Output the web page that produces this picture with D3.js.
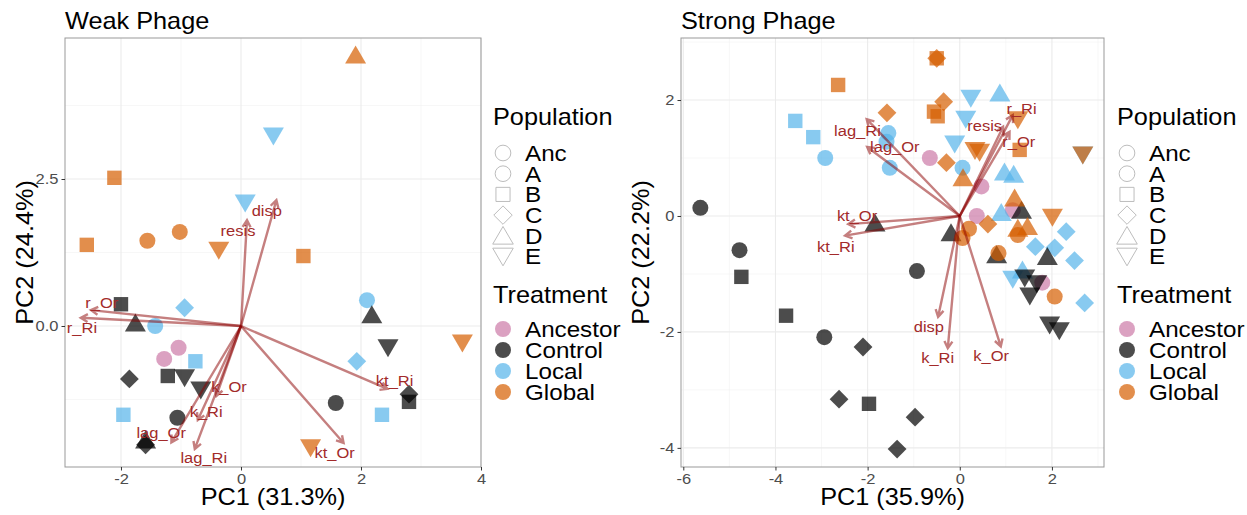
<!DOCTYPE html>
<html>
<head>
<meta charset="utf-8">
<script src="https://cdn.jsdelivr.net/npm/d3@7"></script>
<style>
  body { margin: 0; background: #fff; }
  svg { font-family: "Liberation Sans", Arial, sans-serif; }
</style>
</head>
<body>
<svg id="chart" width="1247" height="515"></svg>
<script>
// ---- data ----
var populations = ["Anc", "A", "B", "C", "D", "E"];
var treatments = ["Ancestor", "Control", "Local", "Global"];
var treatmentColors = ["#CC79A7", "#000000", "#56B4E9", "#D55E00"];

// [PC1, PC2, population, treatment]
var weakPoints = [
  [-1.04, -0.37, "Anc", "Ancestor"], [-1.28, -0.56, "Anc", "Ancestor"],
  [0.54, 3.23, "E", "Local"], [0.07, 2.09, "E", "Local"], [2.10, 0.44, "A", "Local"],
  [-0.94, 0.31, "C", "Local"], [-1.43, 0.00, "A", "Local"], [-0.76, -0.60, "B", "Local"],
  [1.93, -0.60, "C", "Local"], [-1.96, -1.51, "B", "Local"], [2.35, -1.51, "B", "Local"],
  [-2.00, 0.37, "B", "Control"], [-1.76, 0.05, "D", "Control"], [2.18, 0.19, "D", "Control"],
  [2.45, -0.37, "E", "Control"], [-1.86, -0.90, "C", "Control"], [-1.22, -0.85, "B", "Control"],
  [-0.94, -0.88, "E", "Control"], [-0.67, -1.09, "E", "Control"], [-1.06, -1.56, "A", "Control"],
  [1.58, -1.31, "A", "Control"], [2.80, -1.29, "B", "Control"], [2.80, -1.16, "C", "Control"],
  [-1.59, -1.94, "D", "Control"], [-1.59, -2.02, "C", "Control"],
  [1.91, 4.61, "D", "Global"], [-2.11, 2.52, "B", "Global"], [-2.57, 1.38, "B", "Global"],
  [-1.56, 1.45, "A", "Global"], [-1.02, 1.60, "A", "Global"], [-0.37, 1.29, "E", "Global"],
  [1.04, 1.19, "B", "Global"], [3.69, -0.29, "E", "Global"], [1.16, -2.07, "E", "Global"]
];

var strongPoints = [
  [-0.65, 1.00, "Anc", "Ancestor"], [0.47, 0.51, "Anc", "Ancestor"], [0.37, 0.00, "Anc", "Ancestor"],
  [1.15, 0.10, "Anc", "Ancestor"], [1.79, -1.15, "Anc", "Ancestor"],
  [-3.57, 1.64, "B", "Local"], [-3.18, 1.36, "B", "Local"], [-2.92, 1.00, "A", "Local"],
  [-1.55, 1.43, "A", "Local"], [-1.59, 1.28, "A", "Local"], [-1.52, 0.83, "A", "Local"],
  [0.06, 0.83, "A", "Local"], [0.24, 2.03, "E", "Local"], [0.87, 2.12, "D", "Local"],
  [0.13, 1.67, "E", "Local"], [-0.11, 1.24, "E", "Local"], [0.97, 0.76, "D", "Local"],
  [1.17, 0.72, "D", "Local"], [0.90, 0.06, "D", "Local"], [2.31, -0.27, "C", "Local"],
  [1.64, -0.53, "C", "Local"], [2.06, -0.55, "C", "Local"], [2.49, -0.77, "C", "Local"],
  [2.71, -1.50, "C", "Local"], [1.15, -1.09, "E", "Local"], [1.36, -0.93, "D", "Local"],
  [2.67, 1.05, "E", "Local"],
  [-5.63, 0.14, "A", "Control"], [-4.78, -0.59, "A", "Control"], [-4.74, -1.05, "B", "Control"],
  [-3.77, -1.72, "B", "Control"], [-2.94, -2.09, "A", "Control"], [-2.10, -2.26, "C", "Control"],
  [-2.62, -3.16, "C", "Control"], [-1.97, -3.24, "B", "Control"], [-0.97, -3.47, "C", "Control"],
  [-1.36, -4.02, "C", "Control"], [-0.93, -0.95, "A", "Control"], [-1.84, -0.12, "D", "Control"],
  [-0.19, -0.29, "D", "Control"], [0.80, -0.67, "D", "Control"], [1.34, 0.10, "D", "Control"],
  [1.90, -0.70, "D", "Control"], [1.41, -1.07, "E", "Control"], [1.67, -1.17, "E", "Control"],
  [1.52, -1.38, "E", "Control"], [1.95, -1.88, "E", "Control"], [2.16, -1.98, "E", "Control"],
  [-0.50, 2.72, "B", "Global"], [-0.50, 2.72, "C", "Global"], [-2.64, 2.26, "B", "Global"],
  [-1.58, 1.78, "C", "Global"], [-0.35, 1.97, "C", "Global"], [-0.56, 1.80, "B", "Global"],
  [-0.48, 1.72, "B", "Global"], [1.26, 1.66, "E", "Global"], [1.30, 1.14, "B", "Global"],
  [0.33, 1.13, "E", "Global"], [0.43, 1.10, "E", "Global"], [-0.29, 0.92, "C", "Global"],
  [0.07, 0.66, "D", "Global"], [0.61, -0.14, "C", "Global"], [0.20, -0.22, "A", "Global"],
  [0.06, -0.38, "A", "Global"], [1.19, 0.31, "D", "Global"], [1.26, -0.21, "D", "Global"],
  [1.47, -0.18, "D", "Global"], [1.26, -0.33, "A", "Global"], [2.01, -0.02, "E", "Global"],
  [0.84, -0.64, "A", "Global"], [2.06, -1.39, "A", "Global"], [2.67, 1.05, "E", "Global"]
];

// [variable, arrow tip PC1, arrow tip PC2, label PC1, label PC2]
var weakLoadings = [
  ["r_Or", -2.50, 0.27, -2.32, 0.39], ["r_Ri", -2.67, 0.14, -2.65, -0.03],
  ["resis", 0.10, 1.80, -0.05, 1.63], ["disp", 0.59, 2.14, 0.43, 1.96],
  ["kt_Ri", 2.44, -1.07, 2.56, -0.92], ["kt_Or", 1.71, -1.99, 1.56, -2.15],
  ["k_Or", -0.41, -1.19, -0.20, -1.03], ["k_Ri", -0.72, -1.60, -0.58, -1.46],
  ["lag_Or", -1.16, -1.98, -1.33, -1.82], ["lag_Ri", -0.77, -2.09, -0.62, -2.24]
];
var strongLoadings = [
  ["lag_Ri", -2.02, 1.67, -2.22, 1.48], ["lag_Or", -2.01, 1.19, -1.41, 1.19],
  ["kt_Or", -2.42, -0.14, -2.23, 0.00], ["kt_Ri", -2.49, -0.34, -2.69, -0.53],
  ["resis", 0.94, 1.54, 0.54, 1.56], ["r_Ri", 1.15, 1.74, 1.34, 1.86],
  ["r_Or", 1.08, 1.45, 1.28, 1.28], ["disp", -0.47, -1.74, -0.67, -1.91],
  ["k_Ri", -0.26, -2.28, -0.48, -2.44], ["k_Or", 0.89, -2.25, 0.68, -2.40]
];

var weakXTicks = [-2, 0, 2, 4], weakXMinor = [-1, 1, 3];
var weakYTicks = [0, 2.5], weakYMinor = [-1.25, 1.25, 3.75];
var strongXTicks = [-6, -4, -2, 0, 2], strongXMinor = [-5, -3, -1, 1, 3];
var strongYTicks = [-4, -2, 0, 2], strongYMinor = [-3, -1, 1, 3];

// ---- drawing ----
var svg = d3.select("#chart");
var color = d3.scaleOrdinal().domain(treatments).range(treatmentColors);
var WIDE = 1.1; // the original font runs a bit wider than Arial

function label(parent, x, y, str, size, anchor, rot) {
  var t = "translate(" + x + "," + y + ")" + (rot ? " rotate(" + rot + ")" : "") + " scale(" + WIDE + ",1)";
  return parent.append("text").attr("transform", t)
    .attr("font-size", size).attr("text-anchor", anchor || "start").text(str);
}

function shapePath(pop, k) {
  k = k || 1;
  if (pop == "Anc" || pop == "A") {
    var r = 8 * k;
    return "M" + (-r) + ",0a" + r + "," + r + " 0 1,0 " + (2 * r) + ",0a" + r + "," + r + " 0 1,0 " + (-2 * r) + ",0Z";
  }
  if (pop == "B") { var h = 7.2 * k; return "M" + (-h) + "," + (-h) + "H" + h + "V" + h + "H" + (-h) + "Z"; }
  if (pop == "C") { var d = 9.4 * k; return "M0," + (-d) + "L" + d + ",0L0," + d + "L" + (-d) + ",0Z"; }
  if (pop == "D") return "M0," + (-9.5 * k) + "L" + (10.5 * k) + "," + (8.5 * k) + "L" + (-10.5 * k) + "," + (8.5 * k) + "Z";
  return "M0," + (9.5 * k) + "L" + (10.5 * k) + "," + (-8.5 * k) + "L" + (-10.5 * k) + "," + (-8.5 * k) + "Z";
}

function drawPanel(cfg) {
  var x = d3.scaleLinear().domain(cfg.xDomain).range([cfg.left, cfg.right]);
  var y = d3.scaleLinear().domain(cfg.yDomain).range([cfg.bottom, cfg.top]);
  var g = svg.append("g");

  // grid
  g.selectAll(".gxm").data(cfg.xMinor).enter().append("line")
    .attr("x1", x).attr("x2", x).attr("y1", cfg.top).attr("y2", cfg.bottom)
    .attr("stroke", "#f2f2f2").attr("stroke-width", 0.6);
  g.selectAll(".gym").data(cfg.yMinor).enter().append("line")
    .attr("y1", y).attr("y2", y).attr("x1", cfg.left).attr("x2", cfg.right)
    .attr("stroke", "#f2f2f2").attr("stroke-width", 0.6);
  g.selectAll(".gx").data(cfg.xTicks).enter().append("line")
    .attr("x1", x).attr("x2", x).attr("y1", cfg.top).attr("y2", cfg.bottom)
    .attr("stroke", "#ebebeb").attr("stroke-width", 1.1);
  g.selectAll(".gy").data(cfg.yTicks).enter().append("line")
    .attr("y1", y).attr("y2", y).attr("x1", cfg.left).attr("x2", cfg.right)
    .attr("stroke", "#ebebeb").attr("stroke-width", 1.1);

  // points, drawn by treatment order
  var order = ["Ancestor", "Local", "Control", "Global"];
  var pts = cfg.points.slice().sort(function (a, b) { return order.indexOf(a[3]) - order.indexOf(b[3]); });
  g.selectAll(".pt").data(pts).enter().append("path")
    .attr("d", function (d) { return shapePath(d[2]); })
    .attr("transform", function (d) { return "translate(" + x(d[0]) + "," + y(d[1]) + ")"; })
    .attr("fill", function (d) { return color(d[3]); })
    .attr("fill-opacity", 0.7);

  // loading arrows
  var x0 = x(0), y0 = y(0);
  g.selectAll(".arr").data(cfg.loadings).enter().append("path")
    .attr("d", function (d) {
      var tx = x(d[1]), ty = y(d[2]);
      var ang = Math.atan2(ty - y0, tx - x0), L = 8, a = Math.PI / 6;
      var p1 = [tx - L * Math.cos(ang - a), ty - L * Math.sin(ang - a)];
      var p2 = [tx - L * Math.cos(ang + a), ty - L * Math.sin(ang + a)];
      return "M" + x0 + "," + y0 + "L" + tx + "," + ty +
        "M" + p1[0] + "," + p1[1] + "L" + tx + "," + ty + "L" + p2[0] + "," + p2[1];
    })
    .attr("fill", "none").attr("stroke", "#8B0000").attr("stroke-opacity", 0.5)
    .attr("stroke-width", 2.4).attr("stroke-linejoin", "miter");
  cfg.loadings.forEach(function (d) {
    label(g, x(d[3]), y(d[4]), d[0], 15, "middle")
      .attr("dy", "0.36em").attr("fill", "#a22a2a");
  });

  // border
  g.append("rect").attr("x", cfg.left).attr("y", cfg.top)
    .attr("width", cfg.right - cfg.left).attr("height", cfg.bottom - cfg.top)
    .attr("fill", "none").attr("stroke", "#999").attr("stroke-width", 1);

  // axes
  var xAxis = g.append("g").attr("transform", "translate(0," + cfg.bottom + ")")
    .call(d3.axisBottom(x).tickValues(cfg.xTicks).tickSize(3.5).tickPadding(2.5)
      .tickFormat(function (d) { return String(d); }));
  var yAxis = g.append("g").attr("transform", "translate(" + cfg.left + ",0)")
    .call(d3.axisLeft(y).tickValues(cfg.yTicks).tickSize(3.5).tickPadding(3)
      .tickFormat(cfg.yFormat));
  [xAxis, yAxis].forEach(function (a) {
    a.select(".domain").remove();
    a.selectAll("line").attr("stroke", "#333");
    a.selectAll("text").attr("font-size", 15).attr("fill", "#4d4d4d")
      .attr("font-family", "Liberation Sans, Arial, sans-serif");
  });
  xAxis.selectAll("text").attr("transform", "scale(" + WIDE + ",1)");
  yAxis.selectAll("text").each(function () {
    var t = d3.select(this);
    t.attr("transform", "translate(" + (+t.attr("x")) + ",0) scale(" + WIDE + ",1)").attr("x", 0);
  });

  // titles
  label(g, cfg.left, 28.5, cfg.title, 23);
  label(g, (cfg.left + cfg.right) / 2, 505, cfg.xLabel, 23, "middle");
  label(g, cfg.left - 32, (cfg.top + cfg.bottom) / 2, cfg.yLabel, 23, "middle", -90);

  // legends
  var lx = cfg.legendX;
  label(g, lx, 125, "Population", 23);
  var popRows = g.selectAll(".pop").data(populations).enter().append("g")
    .attr("transform", function (d, i) { return "translate(" + (lx + 10) + "," + (153 + i * 20.7) + ")"; });
  popRows.append("path").attr("d", function (d) { return shapePath(d, 0.98); })
    .attr("fill", "none").attr("stroke", "#bdbdbd").attr("stroke-width", 1);
  popRows.each(function (d) { label(d3.select(this), 22, 0, d, 22).attr("dy", "0.36em"); });

  label(g, lx, 303, "Treatment", 23);
  var trtRows = g.selectAll(".trt").data(treatments).enter().append("g")
    .attr("transform", function (d, i) { return "translate(" + (lx + 10) + "," + (329 + i * 21) + ")"; });
  trtRows.append("circle").attr("r", 8).attr("fill", function (d) { return color(d); }).attr("fill-opacity", 0.7);
  trtRows.each(function (d) { label(d3.select(this), 22, 0, d, 22).attr("dy", "0.36em"); });
}

drawPanel({
  title: "Weak Phage", xLabel: "PC1 (31.3%)", yLabel: "PC2 (24.4%)",
  left: 65, right: 481, top: 38, bottom: 467,
  xDomain: [-2.933, 4.0], yDomain: [-2.398, 4.898],
  xTicks: weakXTicks, xMinor: weakXMinor, yTicks: weakYTicks, yMinor: weakYMinor,
  yFormat: d3.format(".1f"),
  points: weakPoints, loadings: weakLoadings, legendX: 493
});
drawPanel({
  title: "Strong Phage", xLabel: "PC1 (35.9%)", yLabel: "PC2 (22.2%)",
  left: 681, right: 1104, top: 38, bottom: 467,
  xDomain: [-6.05, 3.13], yDomain: [-4.33, 3.07],
  xTicks: strongXTicks, xMinor: strongXMinor, yTicks: strongYTicks, yMinor: strongYMinor,
  yFormat: function (d) { return String(d); },
  points: strongPoints, loadings: strongLoadings, legendX: 1117
});
</script>
</body>
</html>
